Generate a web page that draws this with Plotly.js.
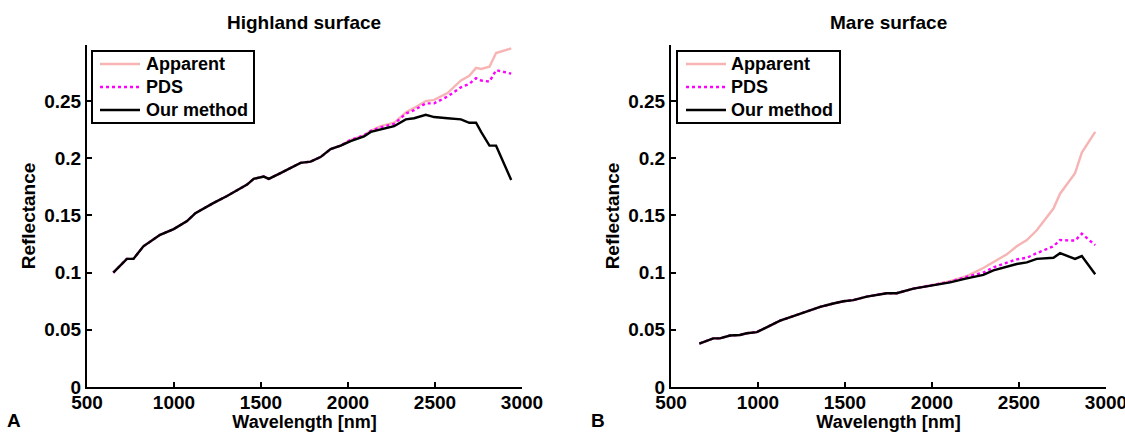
<!DOCTYPE html>
<html>
<head>
<meta charset="utf-8">
<script src="https://cdn.plot.ly/plotly-3.0.1.min.js"></script>
<style>html,body{margin:0;padding:0;background:#fff;}#chart{width:1125px;height:432px;}</style>
</head>
<body>
<div id="chart"></div>
<script>
// ---------- Data ----------
const seriesNames = ["Apparent", "PDS", "Our method"];
const panelTitles = ["Highland surface", "Mare surface"];
const panelLetters = ["A", "B"];
const xTickVals = [500, 1000, 1500, 2000, 2500, 3000];
const yTickVals = [0, 0.05, 0.1, 0.15, 0.2, 0.25];

// Highland surface
const highlandWavelength = [651, 729, 767, 824, 920, 998, 1075, 1123, 1228, 1305, 1420, 1458, 1516, 1545, 1612, 1727, 1785, 1842, 1900, 1958, 2015, 2092, 2131, 2188, 2265, 2332, 2380, 2447, 2495, 2572, 2649, 2697, 2736, 2765, 2813, 2851, 2938];
const highlandApparent = [0.100, 0.112, 0.112, 0.123, 0.133, 0.138, 0.145, 0.152, 0.161, 0.167, 0.177, 0.182, 0.184, 0.182, 0.187, 0.196, 0.197, 0.201, 0.208, 0.211, 0.216, 0.220, 0.224, 0.228, 0.231, 0.240, 0.244, 0.250, 0.251, 0.257, 0.268, 0.272, 0.279, 0.278, 0.280, 0.292, 0.296];
const highlandPDS = [0.100, 0.112, 0.112, 0.123, 0.133, 0.138, 0.145, 0.152, 0.161, 0.167, 0.177, 0.182, 0.184, 0.182, 0.187, 0.196, 0.197, 0.201, 0.208, 0.211, 0.216, 0.220, 0.224, 0.227, 0.230, 0.239, 0.242, 0.248, 0.248, 0.254, 0.262, 0.265, 0.270, 0.268, 0.267, 0.277, 0.274];
const highlandOurs = [0.100, 0.112, 0.112, 0.123, 0.133, 0.138, 0.145, 0.152, 0.161, 0.167, 0.177, 0.182, 0.184, 0.182, 0.187, 0.196, 0.197, 0.201, 0.208, 0.211, 0.215, 0.219, 0.223, 0.225, 0.228, 0.234, 0.235, 0.238, 0.236, 0.235, 0.234, 0.231, 0.231, 0.223, 0.211, 0.211, 0.181];

// Mare surface
const mareWavelength = [663, 743, 781, 839, 896, 935, 993, 1050, 1127, 1203, 1280, 1357, 1433, 1491, 1548, 1625, 1740, 1797, 1893, 1970, 2027, 2104, 2200, 2295, 2353, 2430, 2487, 2545, 2602, 2698, 2736, 2822, 2861, 2938];
const mareApparent = [0.038, 0.0425, 0.0425, 0.045, 0.0455, 0.047, 0.048, 0.052, 0.058, 0.062, 0.066, 0.070, 0.073, 0.075, 0.076, 0.079, 0.082, 0.082, 0.086, 0.088, 0.090, 0.0925, 0.097, 0.104, 0.109, 0.116, 0.123, 0.1285, 0.137, 0.156, 0.169, 0.187, 0.205, 0.223];
const marePDS = [0.038, 0.0425, 0.0425, 0.045, 0.0455, 0.047, 0.048, 0.052, 0.058, 0.062, 0.066, 0.070, 0.073, 0.075, 0.076, 0.079, 0.082, 0.082, 0.086, 0.088, 0.090, 0.092, 0.0964, 0.100, 0.1046, 0.109, 0.1116, 0.113, 0.117, 0.123, 0.1285, 0.128, 0.134, 0.124];
const mareOurs = [0.038, 0.0425, 0.0425, 0.045, 0.0455, 0.047, 0.048, 0.052, 0.058, 0.062, 0.066, 0.070, 0.073, 0.075, 0.076, 0.079, 0.082, 0.082, 0.086, 0.088, 0.090, 0.0915, 0.095, 0.098, 0.102, 0.105, 0.1075, 0.109, 0.112, 0.113, 0.117, 0.112, 0.1145, 0.0985];

// ---------- Styling ----------
const FONT = "Liberation Sans, Arial, Helvetica, sans-serif";
const W = 1125, H = 432;
const styles = [
  {color: "#f7b4b4", width: 2.4, dash: "solid"},
  {color: "#ff00ff", width: 2.4, dash: "dot"},
  {color: "#000000", width: 2.4, dash: "solid"}
];
const bold = (size) => ({family: FONT, size: size, color: "#000", weight: "bold"});

const panels = [
  {wl: highlandWavelength, ys: [highlandApparent, highlandPDS, highlandOurs], xa: "x", ya: "y",
   legendBox: [92, 51, 254, 123], lineX: [100, 140], textX: 144, title: panelTitles[0], titleX: 304, letter: panelLetters[0], letterX: 14},
  {wl: mareWavelength, ys: [mareApparent, marePDS, mareOurs], xa: "x2", ya: "y2",
   legendBox: [677, 51, 840, 123], lineX: [686, 726], textX: 729, title: panelTitles[1], titleX: 888, letter: panelLetters[1], letterX: 598}
];
const legendRowsY = [64, 87, 110];

const traces = [];
const shapes = [];
const annotations = [];
const px = (v) => v / W, py = (v) => 1 - v / H;

panels.forEach(p => {
  p.ys.forEach((y, i) => {
    traces.push({
      type: "scatter", mode: "lines",
      x: p.wl, y: y, name: seriesNames[i],
      xaxis: p.xa, yaxis: p.ya, showlegend: false,
      line: {color: styles[i].color, width: styles[i].width, dash: styles[i].dash},
      hoverinfo: "skip"
    });
  });
  // legend box (drawn by hand so that row spacing matches the reference)
  const b = p.legendBox;
  shapes.push({type: "rect", xref: "paper", yref: "paper", x0: px(b[0]), x1: px(b[2]), y0: py(b[1]), y1: py(b[3]),
               line: {color: "#000", width: 2}, fillcolor: "#fff", layer: "above"});
  seriesNames.forEach((name, i) => {
    shapes.push({type: "line", xref: "paper", yref: "paper", x0: px(p.lineX[0]), x1: px(p.lineX[1]),
                 y0: py(legendRowsY[i]), y1: py(legendRowsY[i]), layer: "above",
                 line: {color: styles[i].color, width: styles[i].width, dash: styles[i].dash}});
    annotations.push({text: name, xref: "paper", yref: "paper", x: px(p.textX), y: py(legendRowsY[i]),
                      xanchor: "left", yanchor: "middle", showarrow: false, font: bold(18)});
  });
  annotations.push({text: p.title, xref: "paper", yref: "paper", x: px(p.titleX), y: py(23),
                    xanchor: "center", yanchor: "middle", showarrow: false, font: bold(19)});
  annotations.push({text: p.letter, xref: "paper", yref: "paper", x: px(p.letterX), y: 0,
                    xanchor: "center", yanchor: "bottom", showarrow: false, font: bold(19), borderpad: 0});
});

const yDomain = [1 - 387 / H, 1 - 45 / H];
function xAxis(domain, anchor) {
  return {
    domain: domain, anchor: anchor, range: [500, 3000], tickvals: xTickVals,
    showgrid: false, zeroline: false, showline: true, linecolor: "#000", linewidth: 2,
    ticks: "inside", ticklen: 5, tickwidth: 2, tickcolor: "#000",
    tickfont: bold(19), ticklabelstandoff: -3, ticklabeloverflow: "allow",
    title: {text: "Wavelength [nm]", font: bold(18), standoff: 1},
    automargin: false, fixedrange: true
  };
}
function yAxis(anchor) {
  return {
    domain: yDomain, range: [0, 0.299], tickvals: yTickVals, anchor: anchor,
    showgrid: false, zeroline: false, showline: true, linecolor: "#000", linewidth: 2,
    ticks: "inside", ticklen: 5, tickwidth: 2, tickcolor: "#000",
    tickfont: bold(19),
    title: {text: "Reflectance", font: bold(19), standoff: 4},
    automargin: false, fixedrange: true
  };
}

const layout = {
  width: W, height: H,
  margin: {l: 0, r: 0, t: 0, b: 0},
  paper_bgcolor: "#fff", plot_bgcolor: "#fff",
  font: {family: FONT, color: "#000", weight: "bold"},
  xaxis: xAxis([87 / W, 522 / W], "y"),
  yaxis: yAxis("x"),
  xaxis2: xAxis([671 / W, 1106 / W], "y2"),
  yaxis2: yAxis("x2"),
  showlegend: false,
  shapes: shapes,
  annotations: annotations
};

Plotly.newPlot("chart", traces, layout, {displayModeBar: false, staticPlot: true});
</script>
</body>
</html>
